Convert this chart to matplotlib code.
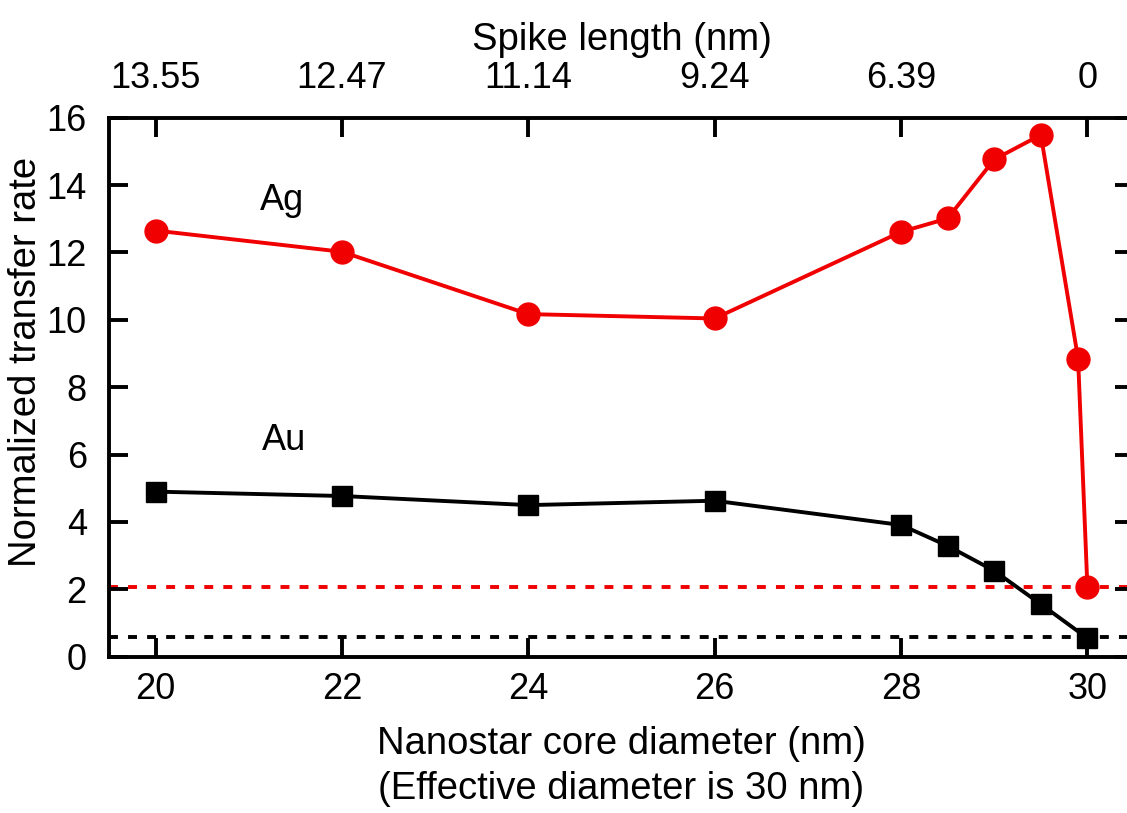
import numpy as np
import matplotlib.pyplot as plt

plt.rcParams['font.family'] = ['Liberation Sans', 'DejaVu Sans']

# Nanostar core diameter (nm)
core_ag = [20, 22, 24, 26, 28, 28.5, 29, 29.5, 29.9, 30]
rate_ag = [12.65, 12.02, 10.17, 10.04, 12.61, 13.01, 14.76, 15.49, 8.85, 2.06]

core_au = [20, 22, 24, 26, 28, 28.5, 29, 29.5, 30]
rate_au = [4.90, 4.77, 4.50, 4.63, 3.91, 3.29, 2.55, 1.56, 0.55]

# reference levels (spherical particle)
ref_ag = 2.06
ref_au = 0.57

# spike length axis on top
top_ticks = [20, 22, 24, 26, 28, 30]
top_labels = ['13.55', '12.47', '11.14', '9.24', '6.39', '0']

tick_fs = 26
label_fs = 27.5
lw = 2.8

fig = plt.figure(figsize=(11.27, 8.13), dpi=100)
ax = fig.add_axes([109 / 1127, 1 - 656.7 / 813, 1025 / 1127, 539 / 813])

red = '#f00000'
ax.axhline(ref_ag, color=red, lw=lw, ls=(0, (2.3, 2.6)), zorder=1)
ax.axhline(ref_au, color='black', lw=lw, ls=(0, (2.3, 2.6)), zorder=1)

ax.plot(core_ag, rate_ag, color=red, lw=lw, marker='o', ms=16.5, zorder=3)
ax.plot(core_au, rate_au, color='black', lw=lw, marker='s', ms=15, zorder=3)

ax.text(21.355, 13.26, 'Ag', fontsize=tick_fs, ha='center', va='baseline')
ax.text(21.38, 6.13, 'Au', fontsize=tick_fs, ha='center', va='baseline')

ax.set_xlim(19.5, 30.5)
ax.set_ylim(0, 16)
ax.set_xticks(top_ticks)
ax.set_yticks(np.arange(0, 17, 2))

for s in ax.spines.values():
    s.set_linewidth(lw)
ax.tick_params(direction='in', length=14, width=lw, labelsize=tick_fs, right=True)
ax.tick_params(axis='x', pad=11)
ax.tick_params(axis='y', pad=16)

ax.set_xlabel('Nanostar core diameter (nm)\n(Effective diameter is 30 nm)',
              fontsize=label_fs, linespacing=1.32)
ax.xaxis.set_label_coords(0.5, -0.1286)
ax.set_ylabel('Normalized transfer rate', fontsize=label_fs)
ax.yaxis.set_label_coords(-0.0634, 0.547)

ax_top = ax.twiny()
ax_top.set_xlim(ax.get_xlim())
ax_top.set_xticks(top_ticks)
ax_top.set_xticklabels(top_labels)
ax_top.tick_params(direction='in', length=14, width=lw, labelsize=tick_fs, pad=15.5)
ax_top.set_xlabel('Spike length (nm)', fontsize=label_fs)
ax_top.xaxis.set_label_coords(0.5, 1.125)

fig.savefig('out.png', dpi=100)
